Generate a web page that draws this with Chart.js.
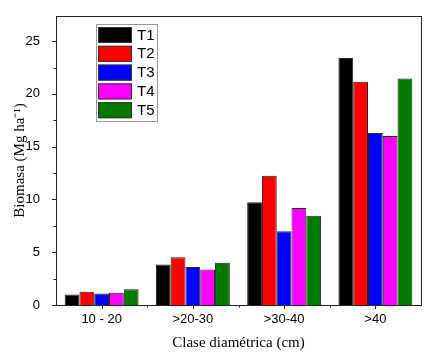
<!DOCTYPE html>
<html>
<head>
<meta charset="utf-8">
<script src="https://cdn.jsdelivr.net/npm/chart.js@4.4.1/dist/chart.umd.min.js"></script>
<style>
html,body{margin:0;padding:0;background:#fff;}
#wrap{width:438px;height:359px;position:relative;}
</style>
</head>
<body>
<div id="wrap"><canvas id="c" width="438" height="359"></canvas></div>
<script>
const categories = ['10 - 20', '>20-30', '>30-40', '>40'];
const seriesNames = ['T1', 'T2', 'T3', 'T4', 'T5'];
const seriesColors = ['#000000', '#ff0000', '#0000ff', '#ff00ff', '#007a00'];
const T1 = [1.0, 3.84, 9.73, 23.39];
const T2 = [1.25, 4.52, 12.25, 21.14];
const T3 = [1.1, 3.59, 6.99, 16.3];
const T4 = [1.15, 3.37, 9.2, 16.0];
const T5 = [1.5, 4.0, 8.45, 21.45];
const seriesValues = [T1, T2, T3, T4, T5];
const yMin = 0, yMax = 27.4, yMajorStep = 5, yMinorStep = 2.5;

const SANS = '"Liberation Sans", Arial, sans-serif';
const SERIF = '"Liberation Serif", "Times New Roman", serif';

const framePlugin = {
  id: 'frame',
  afterDraw(chart) {
    const ctx = chart.ctx, a = chart.chartArea;
    const xs = chart.scales.x, ys = chart.scales.y;
    ctx.save();
    ctx.strokeStyle = '#222';
    ctx.lineWidth = 1;
    ctx.strokeRect(Math.round(a.left) + 0.5, Math.round(a.top) + 0.5, Math.round(a.right - a.left), Math.round(a.bottom - a.top));
    ctx.beginPath();
    // y ticks
    for (let v = yMin; v <= yMax + 1e-9; v += yMinorStep) {
      const p = Math.round(ys.getPixelForValue(v)) + 0.5;
      const major = Math.abs(v / yMajorStep - Math.round(v / yMajorStep)) < 1e-6;
      const len = major ? 4 : 2.5;
      ctx.moveTo(a.left, p); ctx.lineTo(a.left - len, p);
    }
    // x ticks: major at centers, minor at boundaries
    for (let i = 0; i < categories.length; i++) {
      const p = Math.round(xs.getPixelForValue(i)) + 0.5;
      ctx.moveTo(p, a.bottom); ctx.lineTo(p, a.bottom + 4);
      if (i > 0) {
        const b = Math.round((xs.getPixelForValue(i) + xs.getPixelForValue(i - 1)) / 2) + 0.5;
        ctx.moveTo(b, a.bottom); ctx.lineTo(b, a.bottom + 2.5);
      }
    }
    ctx.stroke();

    // legend
    const lx = 96, ly = 24, lw = 61, lh = 97;
    ctx.strokeStyle = '#999';
    ctx.fillStyle = '#fff';
    ctx.fillRect(lx, ly, lw, lh);
    ctx.strokeRect(lx + 0.5, ly + 0.5, lw, lh);
    ctx.font = '15px ' + SANS;
    ctx.textBaseline = 'middle';
    ctx.textAlign = 'left';
    chart.data.datasets.forEach((ds, i) => {
      const y = 27 + i * 18.8;
      ctx.fillStyle = ds.backgroundColor;
      ctx.fillRect(98, y, 34, 16);
      ctx.strokeStyle = '#333';
      ctx.strokeRect(98.5, y + 0.5, 33, 15);
      ctx.fillStyle = '#000';
      ctx.fillText(ds.label, 137, y + 8.5);
    });
    ctx.restore();
  }
};

new Chart(document.getElementById('c'), {
  type: 'bar',
  data: {
    labels: categories,
    datasets: seriesNames.map((n, i) => ({
      label: n,
      data: seriesValues[i],
      backgroundColor: seriesColors[i],
      borderColor: '#222',
      borderWidth: 1,
      categoryPercentage: 0.81,
      barPercentage: 1.0
    }))
  },
  options: {
    responsive: false,
    animation: false,
    devicePixelRatio: 1,
    layout: { padding: { left: 0, right: 17, top: 12, bottom: 0 } },
    plugins: { legend: { display: false }, tooltip: { enabled: false } },
    scales: {
      x: {
        grid: { display: false, drawTicks: false },
        border: { display: false },
        ticks: { color: '#000', font: { family: SANS, size: 13 }, padding: 7, maxRotation: 0 },
        title: { display: true, text: 'Clase diamétrica (cm)', color: '#000', font: { family: SERIF, size: 15 }, padding: { top: 2, bottom: 7 } },
        afterFit(s) { s.height = 54; }
      },
      y: {
        min: yMin, max: yMax,
        grid: { display: false },
        border: { display: false },
        ticks: { stepSize: yMajorStep, includeBounds: false, color: '#000', font: { family: SANS, size: 13 }, padding: 8 },
        title: { display: true, text: 'Biomasa (Mg ha⁻¹)', color: '#000', font: { family: SERIF, size: 15 }, padding: { top: 11, bottom: 0 } },
        afterFit(s) { s.width = 56; }
      }
    }
  },
  plugins: [framePlugin]
});
</script>
</body>
</html>
